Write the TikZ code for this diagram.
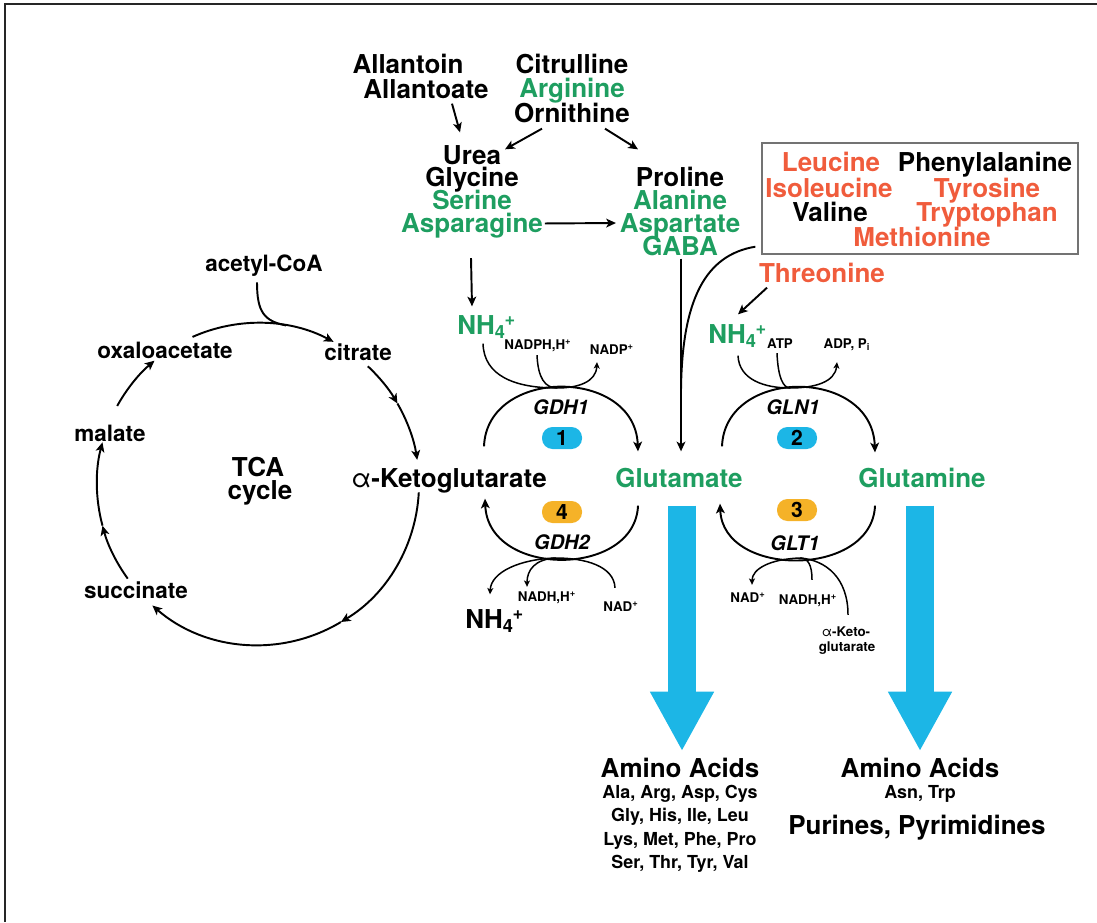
\documentclass[tikz,border=0pt]{standalone}
\usepackage{fontspec}
\setmainfont{TeX Gyre Heros}
\usetikzlibrary{arrows.meta,calc,positioning}

\definecolor{grn}{RGB}{30,158,96}
\definecolor{org}{RGB}{240,92,60}
\definecolor{cyn}{RGB}{28,182,230}
\definecolor{ylw}{RGB}{245,178,40}

\tikzset{
  lbl/.style={inner sep=0pt, font=\bfseries\fontsize{14.8}{16}\selectfont, text height=10.6pt, text depth=0pt},
  clbl/.style={inner sep=0pt, font=\bfseries\fontsize{12.8}{14}\selectfont, text height=9.2pt, text depth=0pt},
  sml/.style={inner sep=0pt, font=\bfseries\fontsize{10.2}{12}\selectfont, text height=7.3pt, text depth=0pt},
  tny/.style={inner sep=0pt, font=\bfseries\fontsize{7.6}{8.5}\selectfont, text height=5.5pt, text depth=0pt},
  enz/.style={inner sep=0pt, font=\bfseries\itshape\fontsize{11.4}{12}\selectfont, text height=8.2pt, text depth=0pt},
  num/.style={fill=#1, rounded corners=0.21cm, minimum width=0.8cm, minimum height=0.44cm, inner sep=0pt, font=\bfseries\fontsize{12}{12}\selectfont},
  arr/.style={line width=1.1pt, -{Stealth[length=5.5pt,width=5pt,inset=1.4pt]}},
  lin/.style={line width=0.85pt},
  sarr/.style={lin, -{Stealth[length=3.6pt,width=3.4pt,inset=0.9pt]}},
  fat/.style={cyn, line width=15.6pt, -{Triangle[length=34pt,width=34pt]}}
}

\begin{document}
\begin{tikzpicture}[x=0.02cm, y=-0.02cm, on grid]
\useasboundingbox (0,0) rectangle (1097,922);
\draw[line width=1.1pt, black!85] (5,922) -- (5,4) -- (1097,4);

% nitrogen sources
\node[lbl] (allantoin) at (408,64) {Allantoin};
\node[lbl] (allantoate) at (426,89) {Allantoate};
\node[lbl] (citrulline) at (572,64) {Citrulline};
\node[lbl, text=grn, below=0.49cm of citrulline] (arginine) {Arginine};
\node[lbl, below=0.49cm of arginine] (ornithine) {Ornithine};

\node[lbl] (urea) at (472,155) {Urea};
\node[lbl, below=0.45cm of urea] (glycine) {Glycine};
\node[lbl, text=grn, below=0.46cm of glycine] (serine) {Serine};
\node[lbl, text=grn, below=0.46cm of serine] (asparagine) {Asparagine};

\node[lbl] (proline) at (680,177) {Proline};
\node[lbl, text=grn, below=0.46cm of proline] (alanine) {Alanine};
\node[lbl, text=grn, below=0.46cm of alanine] (aspartate) {Aspartate};
\node[lbl, text=grn, below=0.46cm of aspartate] (gaba) {GABA};

\node[draw=black!55, line width=0.8pt, minimum width=6.32cm, minimum height=2.22cm, inner sep=0pt] (box) at (920,198.5) {};
\node[lbl, text=org] (leu) at (831,162) {Leucine};
\node[lbl] (phe) at (985,162) {Phenylalanine};
\node[lbl, text=org] (ile) at (829,188) {Isoleucine};
\node[lbl, text=org] (tyr) at (987,188) {Tyrosine};
\node[lbl] (val) at (830,212) {Valine};
\node[lbl, text=org] (trp) at (987,212) {Tryptophan};
\node[lbl, text=org] (met) at (922,237) {Methionine};
\node[lbl, text=org] (thr) at (822,273) {Threonine};

\draw[arr] ($(allantoate.south)+(26,5)$) -- ($(urea.north)+(-12,-13)$);
\draw[arr] ($(ornithine.south)+(-30,6)$) -- ($(urea.north)+(33,4)$);
\draw[arr] ($(ornithine.south)+(33,6)$) -- ($(proline.north)+(-42,-18)$);
\draw[arr, shorten <=1pt, shorten >=2pt] (asparagine.east) -- (aspartate.west);

% central reactions
\node[lbl] (akg) at (449,478) {{\mdseries α}-Ketoglutarate};
\node[lbl, text=grn] (glu) at (679,478) {Glutamate};
\node[lbl, text=grn] (gln) at (922,478) {Glutamine};

\node[lbl, text=grn, anchor=west] (nha) at (457,325) {NH\textsubscript{4}\kern-.05em\textsuperscript{+}};
\node[lbl, text=grn, anchor=west] (nhb) at (708,334) {NH\textsubscript{4}\kern-.05em\textsuperscript{+}};
\node[lbl, anchor=west] (nhc) at (465,619) {NH\textsubscript{4}\kern-.05em\textsuperscript{+}};

\node[tny] (nadph) at (538,345) {NADPH,H\textsuperscript{+}};
\node[tny] (nadp) at (612,350) {NADP\textsuperscript{+}};
\node[tny] (atp) at (780,344) {ATP};
\node[tny] (adp) at (847,344) {ADP, P\textsubscript{i}};
\node[tny] (nadha) at (547,597) {NADH,H\textsuperscript{+}};
\node[tny] (nada) at (621,607) {NAD\textsuperscript{+}};
\node[tny] (nadb) at (748,598) {NAD\textsuperscript{+}};
\node[tny] (nadhb) at (808,600) {NADH,H\textsuperscript{+}};
\node[tny] (keto) at (846,632) {{\mdseries α}-Keto-};
\node[tny] (keto2) at (847,647) {glutarate};

\node[enz] (gdh1) at (561,407) {GDH1};
\node[enz] (gln1) at (793,407) {GLN1};
\node[enz] (gdh2) at (562,542) {GDH2};
\node[enz] (glt1) at (795,543) {GLT1};
\node[num=cyn] (b1) at (562,438) {1};
\node[num=cyn] (b2) at (797,438) {2};
\node[num=ylw] (b4) at (562,512) {4};
\node[num=ylw] (b3) at (797,510) {3};

\coordinate (j1) at (557,388);
\coordinate (j2) at (790,388);
\coordinate (j4) at (556,558);
\coordinate (j3) at (800,558);

\draw[arr] ($(asparagine.south)+(-1,25)$) -- ($(nha.north west)+(15,-9)$);
\draw[arr] ($(thr.south)+(-55,5)$) -- ($(nhb.north west)+(30,-10)$);
\draw[arr] ($(gaba.south)+(1,3)$) -- ($(glu.north)+(2,-17)$);
\draw[line width=1.1pt] ($(box.south west)+(-6,-8)$) .. controls (705,255) and (682,300) .. (681,390);

% GDH1
\draw[arr] ($(akg.north)+(35,-22)$) .. controls (487,367) and (635,367) .. ($(glu.north)+(-41,-17)$);
\draw[lin] ($(nha.south west)+(26,9)$) .. controls (484,376) and (515,388) .. (j1);
\draw[lin] ($(nadph.south)+(-1,5)$) .. controls (538,378) and (545,388) .. (j1);
\draw[sarr] (j1) .. controls (578,388) and (596,382) .. ($(nadp.south)+(-15,7)$);

% GLN1
\draw[arr] ($(glu.north)+(43,-22)$) .. controls (725,367) and (872,367) .. ($(gln.north)+(-47,-16)$);
\draw[lin] ($(nhb.south west)+(30,12)$) .. controls (739,380) and (765,388) .. (j2);
\draw[lin] ($(atp.south)+(-3,4)$) .. controls (778,377) and (783,388) .. (j2);
\draw[sarr] (j2) .. controls (815,388) and (835,382) .. ($(adp.south)+(-10,13)$);

% GDH2
\draw[arr] ($(glu.south)+(-41,18)$) .. controls (635,578) and (488,578) .. ($(akg.south)+(36,11)$);
\draw[sarr] (j4) .. controls (520,559) and (491,572) .. ($(nhc.north west)+(25,-15)$);
\draw[sarr] (j4) .. controls (535,559) and (527,570) .. ($(nadha.north)+(-20,-5)$);
\draw[lin] ($(nada.north)+(-6,-14)$) .. controls (614,566) and (585,558) .. (j4);

% GLT1
\draw[arr] ($(gln.south)+(-47,18)$) .. controls (872,578) and (723,578) .. ($(glu.south)+(41,16)$);
\draw[sarr] (j3) .. controls (770,559) and (752,569) .. ($(nadb.north)+(4,-8)$);
\draw[lin] ($(nadhb.north)+(4,-15)$) .. controls (812,565) and (808,558) .. (j3);
\draw[lin] ($(keto.north)+(2,-12)$) .. controls (848,578) and (826,560) .. (j3);

% TCA cycle
\coordinate (tc) at (258,484);
\node[lbl] (tca) at (258,467) {TCA};
\node[lbl] (cycle) at (260,490) {cycle};
\node[clbl] (acoa) at (264,263) {acetyl-CoA};
\node[clbl] (oaa) at (165,350) {oxaloacetate};
\node[clbl] (cit) at (358,352) {citrate};
\node[clbl] (mal) at (110,433) {malate};
\node[clbl] (suc) at (136,590) {succinate};

\draw[arr] (tc) ++(-114:161) arc[start angle=-114, end angle=-62, radius=161];
\draw[line width=1.1pt] ($(acoa.south)+(-7,11)$) .. controls (257,312) and (264,321) .. ($(tc)+(-80:161)$);
\draw[arr] (tc) ++(-47:161) arc[start angle=-47, end angle=-30, radius=161];
\draw[arr] (tc) ++(-30:161) arc[start angle=-30, end angle=-8.6, radius=161];
\draw[arr] (tc) ++(3:161) arc[start angle=3, end angle=59, radius=161];
\draw[arr] (tc) ++(59:161) arc[start angle=59, end angle=131, radius=161];
\draw[arr] (tc) ++(-216:161) arc[start angle=-216, end angle=-195, radius=161];
\draw[arr] (tc) ++(-195:161) arc[start angle=-195, end angle=-165, radius=161];
\draw[arr] (tc) ++(-151:161) arc[start angle=-151, end angle=-130, radius=161];

% products
\node[lbl] (aaa) at (680,768) {Amino Acids};
\node[sml, below=0.48cm of aaa] (l1) {Ala, Arg, Asp, Cys};
\node[sml, below=0.47cm of l1] (l2) {Gly, His, Ile, Leu};
\node[sml, below=0.47cm of l2] (l3) {Lys, Met, Phe, Pro};
\node[sml, below=0.46cm of l3] (l4) {Ser, Thr, Tyr, Val};
\node[lbl] (aab) at (920,768) {Amino Acids};
\node[sml, below=0.48cm of aab] (asn) {Asn, Trp};
\node[lbl] (pur) at (917,825) {Purines, Pyrimidines};

\draw[fat] ($(glu.south)+(3,18)$) -- ($(aaa.north)+(2,-7)$);
\draw[fat] ($(gln.south)+(-2,18)$) -- ($(aab.north)+(0,-7)$);
\end{tikzpicture}
\end{document}
